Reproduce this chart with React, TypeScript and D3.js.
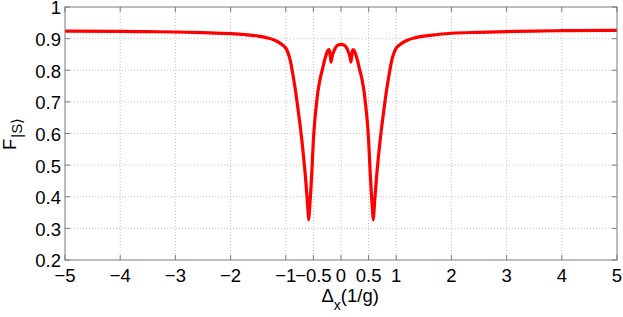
import React, { useEffect, useRef } from 'react';
import * as d3 from 'd3';

// detuning (1/g) and fidelity
const deltaX = [
  -5.0, -4.0, -3.5, -3.0, -2.5, -2.0, -1.75, -1.5, -1.35, -1.2, -1.1, -1.0, -0.96, -0.92, -0.89, -0.86,
  -0.83, -0.80, -0.77, -0.74, -0.71, -0.68, -0.65, -0.62, -0.60, -0.585, -0.57, -0.55, -0.525, -0.50,
  -0.47, -0.44, -0.42, -0.40, -0.37, -0.34, -0.30, -0.27, -0.24, -0.22, -0.205, -0.19, -0.18, -0.17,
  -0.15, -0.12, -0.09, -0.05, 0,
  0.05, 0.09, 0.12, 0.15, 0.17, 0.18, 0.19, 0.205, 0.22, 0.24, 0.27, 0.30, 0.34, 0.37, 0.40, 0.42,
  0.44, 0.47, 0.50, 0.525, 0.55, 0.57, 0.585, 0.60, 0.62, 0.65, 0.68, 0.71, 0.74, 0.77, 0.80, 0.83,
  0.86, 0.89, 0.92, 0.96, 1.0, 1.1, 1.2, 1.35, 1.5, 1.75, 2.0, 2.5, 3.0, 3.5, 4.0, 5.0,
];
const fidelity = [
  0.924, 0.923, 0.922, 0.921, 0.919, 0.916, 0.913, 0.908, 0.903, 0.895, 0.885, 0.87, 0.855, 0.832, 0.805, 0.775,
  0.742, 0.705, 0.665, 0.625, 0.58, 0.53, 0.475, 0.41, 0.36, 0.327, 0.36, 0.41, 0.49, 0.58,
  0.65, 0.7, 0.73, 0.752, 0.78, 0.8, 0.83, 0.848, 0.862, 0.865, 0.858, 0.84, 0.826, 0.835,
  0.85, 0.864, 0.874, 0.88, 0.882,
  0.88, 0.874, 0.864, 0.85, 0.835, 0.826, 0.84, 0.858, 0.865, 0.862, 0.848, 0.83, 0.8, 0.78, 0.752, 0.73,
  0.7, 0.65, 0.58, 0.49, 0.41, 0.36, 0.327, 0.36, 0.41, 0.475, 0.53, 0.58, 0.625, 0.665, 0.705, 0.742,
  0.775, 0.805, 0.832, 0.855, 0.87, 0.885, 0.895, 0.903, 0.908, 0.913, 0.917, 0.92, 0.922, 0.924, 0.925, 0.926,
];

const xTicks = [-5, -4, -3, -2, -1, -0.5, 0, 0.5, 1, 2, 3, 4, 5];
const yTicks = [0.2, 0.3, 0.4, 0.5, 0.6, 0.7, 0.8, 0.9, 1];

const fmt = (v: number) => (v < 0 ? '\u2212' + String(-v) : String(v));

const App = () => {
  const ref = useRef<SVGSVGElement>(null);

  useEffect(() => {
    const width = 623;
    const height = 317;
    const m = { left: 65, top: 7, right: 6, bottom: 57 };
    const x = d3.scaleLinear([-5, 5], [m.left, width - m.right]);
    const y = d3.scaleLinear([0.2, 1], [height - m.bottom, m.top]);
    const font = '"Liberation Sans", Arial, Helvetica, sans-serif';
    const axisColor = '#7a7a7a';

    const svg = d3.select(ref.current!);
    svg.selectAll('*').remove();
    svg.attr('width', width).attr('height', height)
      .attr('viewBox', [0, 0, width, height] as any)
      .attr('style', 'position:absolute;left:0;top:0;background:#fff');

    const [x0, x1] = x.range();
    const [y0, y1] = y.range();

    // grid
    const grid = svg.append('g').attr('stroke', '#b4b4b4').attr('stroke-width', 0.8)
      .attr('stroke-dasharray', '1 2');
    grid.selectAll('line.gx').data(xTicks.filter(t => t > -5 && t < 5)).join('line')
      .attr('x1', d => x(d)).attr('x2', d => x(d)).attr('y1', y0).attr('y2', y1);
    grid.selectAll('line.gy').data(yTicks.filter(t => t > 0.2 && t < 1)).join('line')
      .attr('class', 'gy')
      .attr('x1', x0).attr('x2', x1).attr('y1', d => y(d)).attr('y2', d => y(d));

    // curve
    const line = d3.line<number>()
      .x((d, i) => x(deltaX[i]))
      .y(d => y(d))
      .curve(d3.curveMonotoneX);
    svg.append('path').datum(fidelity)
      .attr('d', line)
      .attr('fill', 'none')
      .attr('stroke', '#ff0000')
      .attr('stroke-width', 3.2)
      .attr('stroke-linejoin', 'round');

    // box + ticks
    const axes = svg.append('g').attr('stroke', axisColor).attr('stroke-width', 1).attr('fill', 'none');
    axes.append('rect').attr('x', x0).attr('y', y1).attr('width', x1 - x0).attr('height', y0 - y1);
    const tl = 5;
    xTicks.forEach(t => {
      axes.append('line').attr('x1', x(t)).attr('x2', x(t)).attr('y1', y0).attr('y2', y0 - tl);
      axes.append('line').attr('x1', x(t)).attr('x2', x(t)).attr('y1', y1).attr('y2', y1 + tl);
    });
    yTicks.forEach(t => {
      axes.append('line').attr('x1', x0).attr('x2', x0 + tl).attr('y1', y(t)).attr('y2', y(t));
      axes.append('line').attr('x1', x1).attr('x2', x1 - tl).attr('y1', y(t)).attr('y2', y(t));
    });

    // tick labels
    svg.append('g').selectAll('text').data(xTicks).join('text')
      .attr('x', d => x(d)).attr('y', 281.5)
      .attr('text-anchor', 'middle')
      .attr('font-family', font).attr('font-size', 18.5).attr('fill', '#000')
      .text(d => fmt(d));
    svg.append('g').selectAll('text').data(yTicks).join('text')
      .attr('x', x0 - 4).attr('y', d => y(d) + 7.4)
      .attr('text-anchor', 'end')
      .attr('font-family', font).attr('font-size', 18.5).attr('fill', '#000')
      .text(d => String(d));

    // x label: Δx(1/g)
    const xl = svg.append('text').attr('x', 321.5).attr('y', 301.5)
      .attr('font-family', font).attr('font-size', 18.5).attr('fill', '#000');
    xl.append('tspan').text('\u0394');
    xl.append('tspan').attr('dy', 8).attr('font-size', 14).text('x');
    xl.append('tspan').attr('dy', -8).text('(1/g)');

    // y label: F|S⟩
    const yl = svg.append('text')
      .attr('transform', 'translate(16,150) rotate(-90)')
      .attr('font-family', font).attr('font-size', 18.5).attr('fill', '#000');
    yl.append('tspan').text('F');
    yl.append('tspan').attr('dy', 6).attr('dx', 1).attr('font-size', 15).text('|S\u27E9');
  }, []);

  return <svg ref={ref}></svg>;
};

export default App;
